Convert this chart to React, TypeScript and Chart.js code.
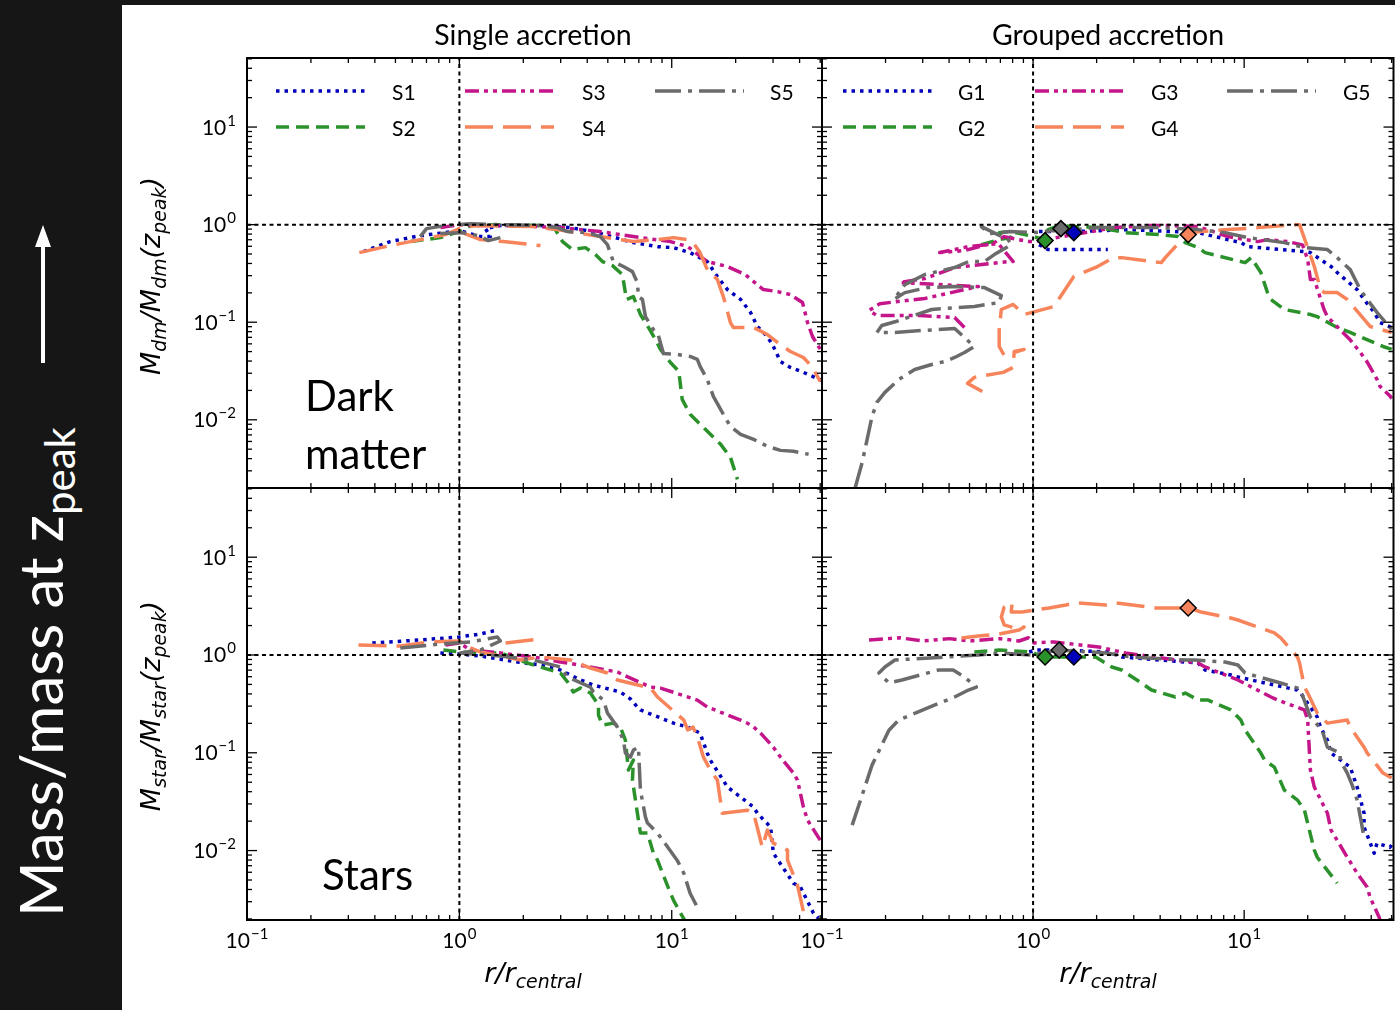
import React, { useEffect, useRef } from "react";
import { Chart, registerables } from "chart.js";
Chart.register(...registerables);

type P = [number, number] | null;

// ---------- axes ----------
const X_MIN = 0.1;
const X_MAX = 51;
const Y_MAX = 51;
const Y_MIN_TOP = 0.002;
const Y_MIN_BOTTOM = 0.00195;
const X_TICKS = [0.1, 1, 10];
const X_TICK_LABELS = ["10^\u22121", "10^0", "10^1"];
const Y_TICKS = [0.01, 0.1, 1, 10];
const Y_TICK_LABELS = ["10^\u22122", "10^\u22121", "10^0", "10^1"];

// ---------- legend names ----------
const SINGLE_NAMES = ["S1", "S2", "S3", "S4", "S5"];
const GROUPED_NAMES = ["G1", "G2", "G3", "G4", "G5"];

// ---------- Dark matter, single accretion ----------
const DM_S1: P[] = [[0.353,0.53],[0.473,0.67],[0.655,0.772],[0.859,0.828],[1.0,0.868],[1.256,0.754],[1.4,0.754],[1.326,0.91],[1.56,0.977],[2.41,0.977],[3.33,0.932],[4.47,0.828],[6.6,0.654],[8.57,0.595],[10.2,0.581],[12.2,0.517],[14.7,0.418],[16.4,0.294],[18.3,0.216],[21.1,0.171],[23.5,0.126],[25.3,0.0904],[28.2,0.0714],[30.1,0.0564],[32.5,0.0396],[36.2,0.0344],[41.7,0.0306],[51,0.0253]];
const DM_S2: P[] = [[0.588,0.67],[0.814,0.736],[1.0,0.848],[1.127,0.977],[1.56,1.0],[2.41,0.977],[2.83,0.889],[3.06,0.67],[3.41,0.555],[3.92,0.581],[4.37,0.493],[4.72,0.418],[5.26,0.38],[5.86,0.308],[6.12,0.171],[6.6,0.183],[7.12,0.12],[7.77,0.0883],[8.38,0.0665],[8.85,0.0526],[9.86,0.0387],[10.8,0.0313],[11.2,0.0162],[12.2,0.0114],[14.4,0.00798],[17.0,0.0056],[18.9,0.00412],[20.4,0.00245]];
const DM_S3: P[] = [[0.814,0.932],[1.0,1.0],[1.256,0.977],[1.94,0.977],[2.99,0.932],[4.61,0.848],[7.12,0.736],[9.86,0.67],[11.9,0.595],[14.7,0.418],[18.3,0.372],[22.2,0.308],[24.3,0.261],[27.0,0.216],[31.5,0.206],[36.2,0.192],[41.3,0.159],[43.6,0.0993],[46.0,0.0714],[49.1,0.0564],[51,0.0501]];
const DM_S4: P[] = [[0.338,0.517],[0.473,0.61],[0.655,0.702],[0.859,0.79],[1.0,0.91],[1.19,0.977],[2.23,0.954],[2.89,0.889],[4.61,0.754],[6.6,0.67],[8.57,0.702],[10.2,0.736],[11.9,0.702],[12.6,0.654],[13.6,0.517],[14.7,0.346],[16.4,0.274],[17.5,0.183],[18.9,0.0993],[19.5,0.0883],[24.3,0.0883],[28.2,0.0748],[31.5,0.062],[36.2,0.0501],[41.7,0.0435],[46.0,0.0344],[50,0.0247],null,[1.03,0.828],[1.256,0.702],[1.61,0.67],[2.41,0.61]];
const DM_S5: P[] = [[0.655,0.754],[0.7,0.91],[0.859,0.977],[1.127,1.02],[1.56,1.0],[2.41,0.977],[2.89,0.932],[3.23,0.848],[4.01,0.828],[4.61,0.754],[4.98,0.624],[5.31,0.418],[5.92,0.372],[6.53,0.33],[6.89,0.255],[6.97,0.183],[7.28,0.171],[7.52,0.114],[8.2,0.0841],[8.57,0.0785],[9.14,0.0478],[10.6,0.0467],[12.2,0.0446],[13.2,0.0415],[13.6,0.0352],[14.7,0.0259],[15.7,0.0174],[17.3,0.0119],[18.9,0.00855],[21.1,0.0071],[24.3,0.0063],[28.2,0.00535],[32.5,0.00486],[37.4,0.00475],[44.1,0.00443],null,[0.814,0.809],[1.03,0.828],[1.23,0.772],[1.37,0.686],[1.56,0.736]];

// ---------- Dark matter, grouped accretion ----------
const DM_G1: P[] = [[1.067,0.624],[1.177,0.555],[1.46,0.555],[2.26,0.555],null,[1.067,0.848],[1.56,0.848],[2.83,0.889],[6.05,0.828],[9.65,0.654],[10.4,0.595],[19.3,0.53],[20.6,0.517],[25.8,0.372],[27.6,0.323],[34.3,0.216],[37.0,0.171],[41.3,0.126],[44.0,0.0993],[50,0.0883]];
const DM_G2: P[] = [[0.569,0.624],[0.691,0.702],[0.788,0.736],[0.691,0.828],[0.788,0.848],[0.958,0.772],[1.139,0.702],[1.177,0.889],[1.326,0.977],[2.05,0.932],[2.74,0.828],[3.92,0.79],[4.87,0.754],[5.26,0.654],[6.05,0.581],[6.53,0.517],[10.1,0.408],[10.8,0.459],[12.0,0.323],[12.9,0.201],[13.4,0.171],[15.5,0.135],[20.6,0.12],[22.2,0.114],[27.6,0.0883],[31.8,0.0785],[45.5,0.0564],[50,0.0526]];
const DM_G3: P[] = [[0.473,0.0883],[0.425,0.1117],[0.29,0.117],[0.182,0.117],[0.167,0.1318],[0.188,0.155],[0.307,0.175],[0.473,0.216],[0.551,0.232],[0.361,0.243],[0.234,0.255],[0.307,0.28],[0.425,0.363],[0.762,0.418],[0.805,0.418],[0.684,0.639],[0.494,0.595],[0.361,0.517],[0.473,0.542],[0.655,0.654],[0.73,0.754],[0.947,0.67],[1.01,0.67],[1.56,0.79],[2.41,0.932],[3.52,0.977],[4.61,0.977],[6.05,0.954],[8.4,0.754],[11.6,0.67],[12.9,0.702],[16.1,0.67],[18.9,0.62],[20.0,0.44],[20.6,0.274],[21.5,0.274],[23.9,0.135],[24.8,0.114],[27.6,0.09],[31.8,0.066],[35.5,0.049],[38.3,0.039],[42.6,0.026],[44.0,0.022],[49.1,0.0175],[50,0.0165]];
const DM_G4: P[] = [[0.575,0.0195],[0.489,0.0236],[0.527,0.0272],[0.722,0.0306],[0.805,0.0344],[0.814,0.0501],[0.907,0.0526],[0.73,0.0456],[0.691,0.0564],[0.691,0.0841],[0.707,0.135],[0.805,0.152],[0.907,0.12],[1.256,0.145],[1.56,0.294],[2.02,0.372],[2.41,0.459],[2.63,0.459],[4.05,0.408],[4.23,0.459],[5.43,0.828],[8.38,0.889],[11.6,0.932],[17.9,1.0],[18.3,1.0],[21.5,0.372],[23.0,0.216],[24.0,0.201],[27.6,0.201],[30.8,0.171],[39.5,0.0904],[50,0.0785]];
const DM_G5: P[] = [[0.1435,0.002],[0.155,0.00366],[0.1726,0.0108],[0.182,0.0151],[0.1987,0.0191],[0.231,0.0259],[0.275,0.0328],[0.331,0.0369],[0.381,0.0396],[0.425,0.0435],[0.473,0.049],[0.527,0.0564],[0.473,0.0697],[0.425,0.0862],[0.297,0.0822],[0.2215,0.0785],[0.182,0.0785],[0.192,0.0925],[0.224,0.1017],[0.331,0.135],[0.527,0.145],[0.691,0.159],[0.707,0.1876],[0.588,0.2265],[0.425,0.232],[0.317,0.2265],[0.247,0.201],[0.219,0.171],[0.247,0.243],[0.307,0.308],[0.425,0.363],[0.494,0.418],[0.588,0.418],[0.655,0.493],[0.788,0.624],[0.762,0.702],[0.569,0.954],[0.621,0.809],[0.771,0.848],[1.0,0.828],[1.256,0.868],[1.56,0.889],[2.05,0.932],[3.92,0.932],[6.05,0.889],[8.11,0.828],[10.4,0.736],[15.5,0.654],[19.3,0.581],[24.8,0.555],[27.6,0.459],[31.8,0.346],[35.5,0.216],[38.3,0.171],[42.6,0.126],[50,0.0841]];
const DM_MARKERS: [number, number][] = [[1.14,0.686],[1.355,0.91],[1.56,0.828],[5.43,0.79]];
const DM_MARKER_SERIES = [2, 5, 1, 4];

// ---------- Stars, single accretion ----------
const ST_S1: P[] = [[0.389,1.327],[0.655,1.424],[1.0,1.528],[1.256,1.64],[1.51,1.8],null,[0.814,1.048],[1.0,1.024],[1.256,0.977],[1.875,0.848],[2.41,0.79],[2.99,0.702],[3.72,0.555],[4.28,0.493],[5.73,0.418],[6.39,0.355],[6.89,0.294],[7.12,0.274],[10.2,0.201],[11.9,0.183],[13.6,0.159],[14.7,0.0993],[15.2,0.0841],[18.3,0.0446],[21.1,0.0352],[24.3,0.0278],[25.3,0.0241],[29.2,0.0174],[30.1,0.0094],[37.4,0.00464],[40.4,0.00422],[46.5,0.00229],[49.1,0.00203]];
const ST_S2: P[] = [[0.841,1.125],[1.0,1.073],[1.256,1.048],[1.56,1.048],[2.09,0.828],[2.41,0.754],[2.99,0.654],[3.23,0.53],[3.44,0.418],[3.72,0.459],[4.14,0.408],[4.52,0.308],[4.52,0.243],[4.72,0.192],[5.31,0.201],[5.73,0.183],[6.05,0.135],[6.25,0.0665],[6.6,0.0841],[6.53,0.0526],[7.12,0.0151],[7.69,0.0151],[8.2,0.0094],[8.57,0.00798],[9.86,0.00366],[10.2,0.0031],[11.0,0.00229],[11.5,0.00194]];
const ST_S3: P[] = [[0.859,1.265],[1.0,1.327],[1.127,1.125],[1.56,1.048],[2.41,0.932],[2.99,0.848],[3.23,0.828],[5.55,0.67],[5.92,0.624],[7.94,0.47],[8.85,0.459],[13.2,0.346],[14.7,0.294],[21.1,0.216],[22.7,0.201],[24.3,0.183],[26.2,0.159],[30.1,0.114],[32.5,0.0904],[37.4,0.062],[39.1,0.0526],[41.7,0.0278],[43.6,0.0205],[50,0.0128],[51,0.0119]];
const ST_S4: P[] = [[0.335,1.265],[0.527,1.236],[0.73,1.36],[1.0,1.39],[1.127,1.18],[1.256,1.073],[1.94,0.889],[2.41,0.954],[3.33,0.889],[4.14,0.736],[4.98,0.654],[5.55,0.555],[7.94,0.459],[8.57,0.372],[11.4,0.216],[11.9,0.171],[12.6,0.183],[13.2,0.145],[14.1,0.0904],[15.2,0.0665],[16.4,0.0526],[17.3,0.0241],[22.7,0.0259],[24.3,0.0241],[26.7,0.0108],[28.2,0.0162],[30.1,0.0119],[35.1,0.0101],[35.1,0.00798],[39.1,0.00443],[42.6,0.00194],null,[1.65,1.327],[2.41,1.458]];
const ST_S5: P[] = [[0.527,1.18],[0.814,1.296],[1.127,1.36],[1.51,1.528],[1.56,1.39],[1.256,1.125],[1.01,1.048],[1.56,0.977],[2.23,0.889],[2.99,0.754],[3.23,0.595],[4.14,0.47],[4.28,0.418],[4.77,0.346],[4.98,0.255],[5.55,0.183],[5.92,0.135],[6.05,0.0993],[6.39,0.0904],[6.6,0.1066],[6.97,0.114],[7.12,0.0415],[7.52,0.022],[7.69,0.0191],[8.57,0.0151],[8.85,0.0137],[10.6,0.00798],[11.4,0.00587],[12.2,0.00366],[13.2,0.00263]];

// ---------- Stars, grouped accretion ----------
const ST_G1: P[] = [[0.958,1.073],[1.03,1.125],[1.326,1.125],[2.28,1.073],[2.63,0.954],[6.05,0.828],[6.53,0.702],[8.65,0.624],[9.34,0.595],[17.9,0.438],[18.5,0.408],[22.2,0.232],[23.0,0.183],[24.8,0.135],[25.8,0.0993],[31.8,0.0714],[34.3,0.0446],[37.0,0.0241],[37.0,0.0174],[41.3,0.0094],[42.6,0.0119],[49.1,0.0108],[50,0.0114]];
const ST_G2: P[] = [[0.527,1.073],[0.691,1.125],[0.989,1.073],[1.1,0.954],[1.78,0.954],[1.98,0.954],[2.36,0.754],[2.63,0.702],[3.26,0.517],[3.64,0.438],[4.72,0.372],[5.26,0.408],[6.05,0.346],[6.75,0.346],[8.65,0.274],[9.65,0.216],[10.1,0.171],[12.0,0.0993],[12.5,0.0841],[13.9,0.0714],[15.5,0.0415],[17.9,0.0328],[19.3,0.0259],[21.5,0.0101],[22.2,0.00855],[27.6,0.00464]];
const ST_G3: P[] = [[0.167,1.424],[0.234,1.5],[0.3,1.39],[0.402,1.47],[0.5,1.39],[0.691,1.47],[0.859,1.39],[0.95,1.5],[1.01,1.327],[1.256,1.36],[2.05,1.207],[2.74,1.048],[6.05,0.828],[6.53,0.754],[8.65,0.595],[9.34,0.555],[13.4,0.372],[14.4,0.346],[19.3,0.274],[20.0,0.216],[20.6,0.0665],[21.5,0.0446],[24.8,0.0241],[25.8,0.0162],[30.8,0.00855],[34.3,0.00587],[38.3,0.00422],[39.5,0.00333],[43.6,0.00208],[44.0,0.00194]];
const ST_G4: P[] = [[0.458,1.493],[0.551,1.565],[0.691,1.64],[0.859,1.8],[0.907,1.934],[0.814,1.89],[0.73,2.03],[0.707,2.45],[0.73,3.1],[0.796,3.41],[0.788,2.75],[0.888,2.75],[1.19,3.03],[1.43,3.25],[1.594,3.41],[2.21,3.25],[2.46,3.41],[3.8,3.03],[4.23,3.03],[5.43,3.03],[6.25,2.75],[8.65,2.39],[9.34,2.28],[13.9,1.68],[14.9,1.493],[17.9,0.954],[18.3,0.828],[19.3,0.47],[20.0,0.408],[22.2,0.255],[24.8,0.201],[30.8,0.216],[31.8,0.183],[37.0,0.114],[38.3,0.0993],[45.5,0.062],[50,0.0551]];
const ST_G5: P[] = [[0.139,0.0182],[0.155,0.0369],[0.1726,0.0748],[0.192,0.12],[0.2075,0.17],[0.231,0.216],[0.357,0.32],[0.425,0.372],[0.494,0.438],[0.539,0.47],[0.473,0.595],[0.418,0.702],[0.357,0.702],[0.239,0.555],[0.2075,0.517],[0.186,0.654],[0.1987,0.754],[0.2215,0.889],[0.324,0.932],[0.551,1.0],[0.691,1.048],[0.989,1.0],[1.326,1.125],[2.21,1.048],[2.93,0.954],[5.26,0.889],[5.86,0.889],[8.11,0.848],[9.34,0.79],[10.1,0.654],[14.9,0.517],[17.9,0.459],[18.5,0.438],[20.6,0.232],[23.4,0.171],[24.8,0.114],[28.5,0.0993],[28.5,0.0841],[30.8,0.062],[32.5,0.0467],[34.3,0.0328],[37.0,0.0137]];
const ST_MARKERS: [number, number][] = [[1.14,0.954],[1.33,1.125],[1.56,0.954],[5.43,3.03]];
const ST_MARKER_SERIES = [2, 5, 1, 4];

// ---------- styles ----------
const COLORS = ["#0000bb", "#2b922b", "#c4168a", "#f7845a", "#6b6b6b"];
const DASHES = [[3.5, 5], [13, 7], [14, 5, 4, 5, 4, 5], [28, 10], [26, 7, 4, 7]];
const LINE_W = 3.5;
const FONT = "Lato, 'Open Sans', sans-serif";
const MATH_FONT = "'DejaVu Sans', sans-serif";

function drawPow(ctx: any, label: string, x: number, baseline: number, align: string) {
  const [b, e] = label.split("^");
  ctx.font = `21px ${FONT}`;
  const wb = ctx.measureText(b).width;
  ctx.font = `15px ${FONT}`;
  const we = ctx.measureText(e).width;
  const total = wb + 1 + we;
  const x0 = align === "right" ? x - total : x - total / 2;
  ctx.textAlign = "left";
  ctx.textBaseline = "alphabetic";
  ctx.font = `21px ${FONT}`;
  ctx.fillText(b, x0, baseline);
  ctx.font = `15px ${FONT}`;
  ctx.fillText(e, x0 + wb + 1, baseline - 9);
}

function minorTicks(min: number, max: number) {
  const out: number[] = [];
  for (let d = -4; d <= 2; d++) {
    for (let k = 2; k <= 9; k++) {
      const v = k * Math.pow(10, d);
      if (v > min * 1.001 && v < max * 0.999) out.push(v);
    }
  }
  return out;
}

const decorPlugin = {
  id: "panelDecor",
  afterDraw(chart: any, _args: any, o: any) {
    const ctx = chart.ctx;
    const a = chart.chartArea;
    const xs = chart.scales.x;
    const ys = chart.scales.y;
    ctx.save();
    ctx.setLineDash([]);
    ctx.strokeStyle = "#000";
    ctx.fillStyle = "#000";
    ctx.lineWidth = 1.3;
    const seg = (x1: number, y1: number, x2: number, y2: number) => {
      ctx.beginPath();
      ctx.moveTo(x1, y1);
      ctx.lineTo(x2, y2);
      ctx.stroke();
    };
    const MAJ = 10, MIN = 5;
    const xTick = (v: number, len: number) => {
      const px = xs.getPixelForValue(v);
      if (px <= a.left + 0.5 || px >= a.right - 0.5) return;
      seg(px, a.bottom, px, a.bottom - len);
      seg(px, a.top, px, a.top + len);
    };
    const yTick = (v: number, len: number) => {
      const py = ys.getPixelForValue(v);
      if (py <= a.top + 0.5 || py >= a.bottom - 0.5) return;
      seg(a.left, py, a.left + len, py);
      seg(a.right, py, a.right - len, py);
    };
    X_TICKS.forEach((v) => xTick(v, MAJ));
    minorTicks(xs.min, xs.max).forEach((v) => xTick(v, MIN));
    Y_TICKS.forEach((v) => yTick(v, MAJ));
    minorTicks(ys.min, ys.max).forEach((v) => yTick(v, MIN));
    ctx.lineWidth = 2;
    ctx.strokeRect(a.left, a.top, a.right - a.left, a.bottom - a.top);

    if (o.yLabels) {
      Y_TICKS.forEach((v, i) => drawPow(ctx, Y_TICK_LABELS[i], a.left - 11, ys.getPixelForValue(v) + 7.5, "right"));
    }
    if (o.xLabels) {
      X_TICKS.forEach((v, i) => drawPow(ctx, X_TICK_LABELS[i], xs.getPixelForValue(v), a.bottom + 28, "center"));
    }
    if (o.legend) {
      const L = o.legend;
      L.names.forEach((name: string, i: number) => {
        const col = Math.floor(i / 2);
        const row = i % 2;
        const y = a.top + L.rows[row];
        const sx = a.left + L.sampleX[col];
        ctx.setLineDash(DASHES[i]);
        ctx.lineWidth = LINE_W;
        ctx.strokeStyle = COLORS[i];
        seg(sx, y, sx + 89, y);
        ctx.setLineDash([]);
        ctx.font = `21px ${FONT}`;
        ctx.textAlign = "left";
        ctx.textBaseline = "alphabetic";
        ctx.fillStyle = "#000";
        ctx.fillText(name, a.left + L.textX[col], y + 8.5);
      });
    }
    ctx.restore();
  },
};

const toXY = (pts: P[]) => pts.map((p) => (p ? { x: p[0], y: p[1] } : { x: NaN, y: NaN }));

const PL = 125, PT = 10, PR = 6, PB = 50, PW = 575;

type PanelDef = {
  key: string; left: number; top: number; h: number; yMin: number;
  series: P[][]; markers: [number, number][] | null; markerSeries: number[] | null;
  yLabels: boolean; xLabels: boolean; legend: any;
};

const PANELS: PanelDef[] = [
  { key: "tl", left: 247, top: 58, h: 430, yMin: Y_MIN_TOP, series: [DM_S1, DM_S2, DM_S3, DM_S4, DM_S5], markers: null, markerSeries: null, yLabels: true, xLabels: false,
    legend: { names: SINGLE_NAMES, sampleX: [29, 218, 408], textX: [145, 335, 523], rows: [33, 69] } },
  { key: "tr", left: 822, top: 58, h: 430, yMin: Y_MIN_TOP, series: [DM_G1, DM_G2, DM_G3, DM_G4, DM_G5], markers: DM_MARKERS, markerSeries: DM_MARKER_SERIES, yLabels: false, xLabels: false,
    legend: { names: GROUPED_NAMES, sampleX: [21, 213, 405], textX: [136, 329, 521], rows: [33, 69] } },
  { key: "bl", left: 247, top: 488, h: 432, yMin: Y_MIN_BOTTOM, series: [ST_S1, ST_S2, ST_S3, ST_S4, ST_S5], markers: null, markerSeries: null, yLabels: true, xLabels: true, legend: null },
  { key: "br", left: 822, top: 488, h: 432, yMin: Y_MIN_BOTTOM, series: [ST_G1, ST_G2, ST_G3, ST_G4, ST_G5], markers: ST_MARKERS, markerSeries: ST_MARKER_SERIES, yLabels: false, xLabels: true, legend: null },
];

function buildConfig(p: PanelDef): any {
  const datasets: any[] = [];
  if (p.markers && p.markerSeries) {
    p.markers.forEach((m, i) => {
      const c = COLORS[p.markerSeries![i] - 1];
      datasets.push({
        data: [{ x: m[0], y: m[1] }], showLine: false, pointStyle: "rectRot", pointRadius: 8,
        backgroundColor: c, borderColor: "#000", pointBorderWidth: 1.5, borderWidth: 1.5, order: -1,
      });
    });
  }
  datasets.push({ data: [{ x: X_MIN, y: 1 }, { x: X_MAX, y: 1 }], showLine: true, borderColor: "#000", borderWidth: 2, borderDash: [4, 3.5], pointRadius: 0, order: 0 });
  datasets.push({ data: [{ x: 1, y: p.yMin }, { x: 1, y: Y_MAX }], showLine: true, borderColor: "#000", borderWidth: 2, borderDash: [4, 3.5], pointRadius: 0, order: 0 });
  p.series.forEach((s, i) => {
    datasets.push({
      data: toXY(s), showLine: true, spanGaps: false, borderColor: COLORS[i], backgroundColor: COLORS[i],
      borderWidth: LINE_W, borderDash: DASHES[i], borderCapStyle: "butt", borderJoinStyle: "round",
      pointRadius: 0, tension: 0, fill: false, order: 5 - i,
    });
  });
  return {
    type: "scatter",
    data: { datasets },
    options: {
      animation: false, responsive: false, devicePixelRatio: 1, events: [],
      layout: { padding: { left: PL, top: PT, right: PR, bottom: PB } },
      plugins: {
        legend: { display: false }, tooltip: { enabled: false },
        panelDecor: { yLabels: p.yLabels, xLabels: p.xLabels, legend: p.legend },
      },
      scales: {
        x: { type: "logarithmic", min: X_MIN, max: X_MAX, display: false },
        y: { type: "logarithmic", min: p.yMin, max: Y_MAX, display: false },
      },
    },
    plugins: [decorPlugin],
  };
}

function Panel({ p }: { p: PanelDef }) {
  const ref = useRef<HTMLCanvasElement>(null);
  useEffect(() => {
    const chart = new Chart(ref.current as HTMLCanvasElement, buildConfig(p));
    return () => chart.destroy();
  }, []);
  return (
    <canvas ref={ref} width={PL + PW + PR} height={PT + p.h + PB}
      style={{ position: "absolute", left: p.left - PL, top: p.top - PT }} />
  );
}

const sub = (t: string) => <span style={{ fontSize: "0.7em", verticalAlign: "-0.3em" }}>{t}</span>;
const mathStyle: any = { position: "absolute", fontFamily: MATH_FONT, fontStyle: "italic", color: "#000", whiteSpace: "nowrap", lineHeight: 1 };

export default function App() {
  return (
    <div style={{ position: "absolute", left: 0, top: 0, width: 1395, height: 1010, overflow: "hidden", background: "#fff", fontFamily: FONT }}>
      <div style={{ position: "absolute", left: 0, top: 0, width: 1395, height: 5, background: "#161616" }} />
      <div style={{ position: "absolute", left: 0, top: 0, width: 122, height: 1010, background: "#161616" }} />
      <svg width={30} height={150} style={{ position: "absolute", left: 28, top: 220 }}>
        <polygon points="15,5 7,27 23,27" fill="#fff" />
        <rect x={13} y={25} width={4} height={118} fill="#fff" />
      </svg>
      <div style={{ position: "absolute", left: 45, top: 672, transform: "translate(-50%,-50%) rotate(-90deg)", color: "#fff", fontSize: 60, whiteSpace: "nowrap", lineHeight: 1, fontFamily: FONT }}>
        Mass/mass at z<span style={{ fontSize: "0.7em", verticalAlign: "-0.3em" }}>peak</span>
      </div>

      {PANELS.map((p) => <Panel key={p.key} p={p} />)}

      <div style={{ position: "absolute", left: 533, top: 20, transform: "translateX(-50%)", fontSize: 28.5, lineHeight: 1, whiteSpace: "nowrap" }}>Single accretion</div>
      <div style={{ position: "absolute", left: 1108, top: 20, transform: "translateX(-50%)", fontSize: 28.5, lineHeight: 1, whiteSpace: "nowrap" }}>Grouped accretion</div>

      <div style={{ ...mathStyle, left: 153, top: 276, fontSize: 27, transform: "translate(-50%,-50%) rotate(-90deg)" }}>
        M{sub("dm")}/M{sub("dm")}(z{sub("peak")})
      </div>
      <div style={{ ...mathStyle, left: 153, top: 706, fontSize: 27, transform: "translate(-50%,-50%) rotate(-90deg)" }}>
        M{sub("star")}/M{sub("star")}(z{sub("peak")})
      </div>
      <div style={{ ...mathStyle, left: 533, top: 975, fontSize: 27, transform: "translate(-50%,-50%)" }}>r/r{sub("central")}</div>
      <div style={{ ...mathStyle, left: 1108, top: 975, fontSize: 27, transform: "translate(-50%,-50%)" }}>r/r{sub("central")}</div>

      <div style={{ position: "absolute", left: 305, top: 374, fontSize: 42, lineHeight: 1, color: "#000" }}>Dark</div>
      <div style={{ position: "absolute", left: 305, top: 432, fontSize: 42, lineHeight: 1, color: "#000" }}>matter</div>
      <div style={{ position: "absolute", left: 322, top: 853, fontSize: 42, lineHeight: 1, color: "#000" }}>Stars</div>
    </div>
  );
}
